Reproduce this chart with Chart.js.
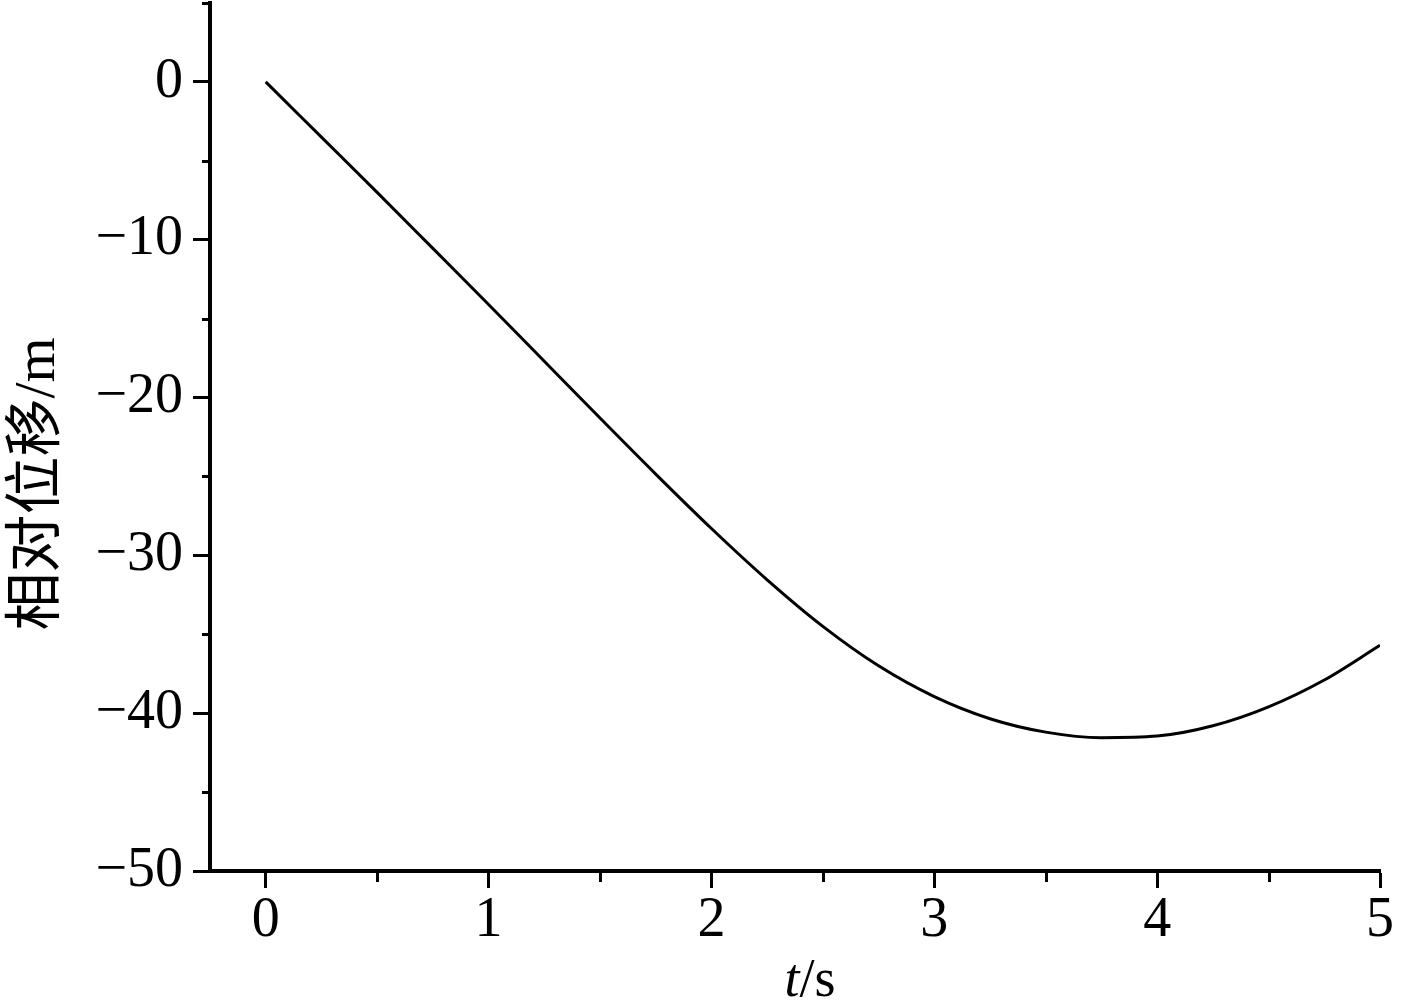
<!DOCTYPE html>
<html>
<head>
<meta charset="utf-8">
<script src="https://cdn.jsdelivr.net/npm/chart.js@4.4.1/dist/chart.umd.min.js"></script>
<style>
html, body { margin: 0; padding: 0; background: #fff; }
canvas { display: block; }
</style>
</head>
<body>
<canvas id="chart" width="1417" height="1004"></canvas>
<script>
// data
const times = [0, 0.25, 0.5, 0.75, 1, 1.25, 1.5, 1.75, 2, 2.25, 2.5, 2.75, 3, 3.25, 3.5, 3.75, 4, 4.25, 4.5, 4.75, 5];
const displacement = [0, -3.5, -7.0, -10.55, -14.1, -17.7, -21.3, -24.85, -28.3, -31.55, -34.5, -37.0, -38.95, -40.35, -41.2, -41.55, -41.45, -40.8, -39.6, -37.9, -35.7];
const xTicks = [0, 1, 2, 3, 4, 5];
const yTicks = [-50, -40, -30, -20, -10, 0];
const xMinor = [0.5, 1.5, 2.5, 3.5, 4.5];
const yMinor = [-45, -35, -25, -15, -5, 5];
const yTitle = '相对位移/m';
const xTitleVar = 't';
const xTitleUnit = '/s';

const FONT = '"Liberation Serif", "Times New Roman", serif';

function label(v) {
    return v < 0 ? '\u2212' + Math.abs(v) : String(v);
}

// minor ticks + axis titles
const extras = {
    id: 'extras',
    afterDraw(chart) {
        const ctx = chart.ctx;
        const xs = chart.scales.x, ys = chart.scales.y;
        const area = chart.chartArea;
        ctx.save();
        ctx.strokeStyle = '#000';
        ctx.lineWidth = 3;
        ctx.beginPath();
        xMinor.forEach(v => {
            const px = Math.round(xs.getPixelForValue(v)) + 0.5;
            ctx.moveTo(px, area.bottom);
            ctx.lineTo(px, area.bottom + 11);
        });
        yMinor.forEach(v => {
            const py = Math.round(ys.getPixelForValue(v)) + 0.5;
            ctx.moveTo(area.left, py);
            ctx.lineTo(area.left - 8, py);
        });
        ctx.stroke();

        ctx.fillStyle = '#000';
        // y title
        ctx.save();
        ctx.translate(39, (area.top + area.bottom) / 2 + 47);
        ctx.rotate(-Math.PI / 2);
        ctx.font = '58px ' + FONT + ', "Noto Sans CJK SC"';
        ctx.textAlign = 'center';
        ctx.textBaseline = 'middle';
        ctx.fillText(yTitle, 0, 0);
        ctx.restore();

        // x title, italic variable + upright unit
        const fItalic = 'italic 54px ' + FONT;
        const fNormal = '54px ' + FONT;
        ctx.font = fItalic;
        const w1 = ctx.measureText(xTitleVar).width;
        ctx.font = fNormal;
        const w2 = ctx.measureText(xTitleUnit).width;
        let x0 = 810 - (w1 + w2) / 2;
        const base = 996;
        ctx.textAlign = 'left';
        ctx.textBaseline = 'alphabetic';
        ctx.font = fItalic;
        ctx.fillText(xTitleVar, x0, base);
        ctx.font = fNormal;
        ctx.fillText(xTitleUnit, x0 + w1, base);
        ctx.restore();
    }
};

const ctx = document.getElementById('chart').getContext('2d');
const myChart = new Chart(ctx, {
    type: 'line',
    data: {
        datasets: [{
            data: times.map((t, i) => ({x: t, y: displacement[i]})),
            borderColor: '#000',
            borderWidth: 3,
            pointRadius: 0,
            fill: false,
            cubicInterpolationMode: 'monotone'
        }]
    },
    options: {
        responsive: false,
        animation: false,
        devicePixelRatio: 1,
        layout: { padding: { top: 3, right: 37, left: 0, bottom: 0 } },
        plugins: { legend: { display: false }, tooltip: { enabled: false } },
        scales: {
            x: {
                type: 'linear',
                min: -0.25,
                max: 5,
                afterBuildTicks: s => { s.ticks = xTicks.map(v => ({value: v})); },
                afterFit: s => { s.height = 133; s.paddingLeft = 0; s.paddingRight = 0; },
                ticks: {
                    color: '#000',
                    font: { family: FONT, size: 56 },
                    padding: 0,
                    maxRotation: 0,
                    autoSkip: false,
                    callback: v => label(v)
                },
                grid: { drawOnChartArea: false, drawTicks: true, tickLength: 17, tickWidth: 3, tickColor: '#000' },
                border: { display: true, color: '#000', width: 4 }
            },
            y: {
                min: -50,
                max: 5,
                afterBuildTicks: s => { s.ticks = yTicks.map(v => ({value: v})); },
                afterFit: s => { s.width = 210; s.paddingTop = 0; s.paddingBottom = 0; },
                ticks: {
                    color: '#000',
                    font: { family: FONT, size: 56 },
                    padding: 10,
                    autoSkip: false,
                    callback: v => label(v)
                },
                grid: { drawOnChartArea: false, drawTicks: true, tickLength: 17, tickWidth: 3, tickColor: '#000' },
                border: { display: true, color: '#000', width: 4 }
            }
        }
    },
    plugins: [extras]
});
</script>
</body>
</html>
